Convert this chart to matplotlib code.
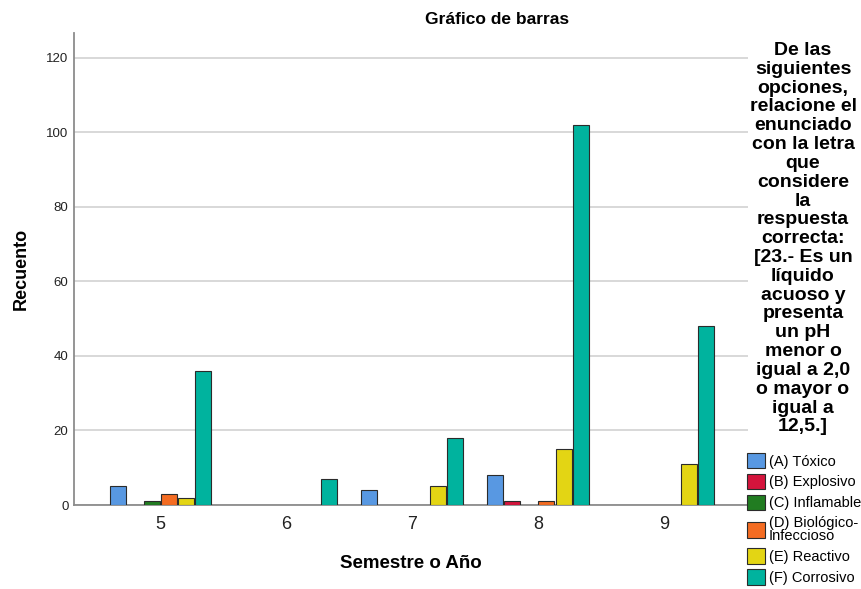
import numpy as np
import matplotlib
matplotlib.use("Agg")
import matplotlib.pyplot as plt

plt.rcParams['font.family'] = ['Liberation Sans', 'DejaVu Sans']

# semestre o año
semestres = ["5", "6", "7", "8", "9"]

# recuento por opcion de respuesta
toxico = [5, 0, 4, 8, 0]
explosivo = [0, 0, 0, 1, 0]
inflamable = [1, 0, 0, 0, 0]
biologico = [3, 0, 0, 1, 0]
reactivo = [2, 0, 5, 15, 11]
corrosivo = [36, 7, 18, 102, 48]

etiquetas = ["(A) Tóxico", "(B) Explosivo", "(C) Inflamable",
             "(D) Biológico-\nInfeccioso", "(E) Reactivo", "(F) Corrosivo"]
colores = ["#5898e2", "#d4143c", "#217c21", "#f46c22", "#e3d514", "#00b39e"]

series = [toxico, explosivo, inflamable, biologico, reactivo, corrosivo]

titulo_leyenda = ("De las\nsiguientes\nopciones,\nrelacione el\nenunciado\n"
                  "con la letra\nque\nconsidere\nla\nrespuesta\ncorrecta:\n"
                  "[23.- Es un\nlíquido\nacuoso y\npresenta\nun pH\nmenor o\n"
                  "igual a 2,0\no mayor o\nigual a\n12,5.]")

fig = plt.figure(figsize=(8.61, 5.89), dpi=100)
ax = fig.add_axes([74 / 861, 1 - 505 / 589, (748 - 74) / 861, (505 - 33) / 589])

x = np.arange(len(semestres))
step = 0.135
width = 0.127
handles = []
for i, (vals, col) in enumerate(zip(series, colores)):
    # SPSS leaves zero counts out entirely
    vals = np.array(vals, dtype=float)
    mask = vals > 0
    ax.bar(x[mask] + (i - 2.5) * step, vals[mask], width=width, color=col,
           edgecolor="#2b2b2b", linewidth=0.8, zorder=3)
    handles.append(plt.Rectangle((0, 0), 1, 1, facecolor=col, edgecolor="#2b2b2b", linewidth=0.8))

ax.set_xlim(-0.683, 4.667)
ax.set_ylim(0, 126.7)
ax.set_yticks([0, 20, 40, 60, 80, 100, 120])
ax.set_xticks(x)
ax.set_xticklabels(semestres)
ax.yaxis.grid(True, color="#d6d6d6", linewidth=1.3, zorder=0)
ax.set_axisbelow(True)
for s in ["top", "right"]:
    ax.spines[s].set_visible(False)
for s in ["left", "bottom"]:
    ax.spines[s].set_color("#8c8c8c")
    ax.spines[s].set_linewidth(1.3)
ax.tick_params(axis="y", length=0, labelsize=9.5, pad=4, labelcolor="#222222")
ax.tick_params(axis="x", length=0, labelsize=13, pad=8, labelcolor="#222222")

ax.set_ylabel("Recuento", fontsize=13, fontweight="bold", labelpad=12)
ax.set_xlabel("Semestre o Año", fontsize=13.5, fontweight="bold", labelpad=16)

fig.text(497 / 861, 1 - 19 / 589, "Gráfico de barras", ha="center", va="center",
         fontsize=12.5, fontweight="bold")

fig.text(803 / 861, 1 - 42 / 589, titulo_leyenda, ha="center", va="top",
         multialignment="center", fontsize=14, fontweight="bold", linespacing=1.14)

leg = fig.legend(handles, etiquetas, loc="upper left",
                 bbox_to_anchor=(747 / 861, 1 - 453 / 589), frameon=False,
                 fontsize=10.5, handlelength=1.25, handleheight=1.25,
                 handletextpad=0.25, labelspacing=0.36, borderpad=0, borderaxespad=0)
leg.get_texts()[3].set_linespacing(0.95)

fig.savefig("out.png", dpi=100)
